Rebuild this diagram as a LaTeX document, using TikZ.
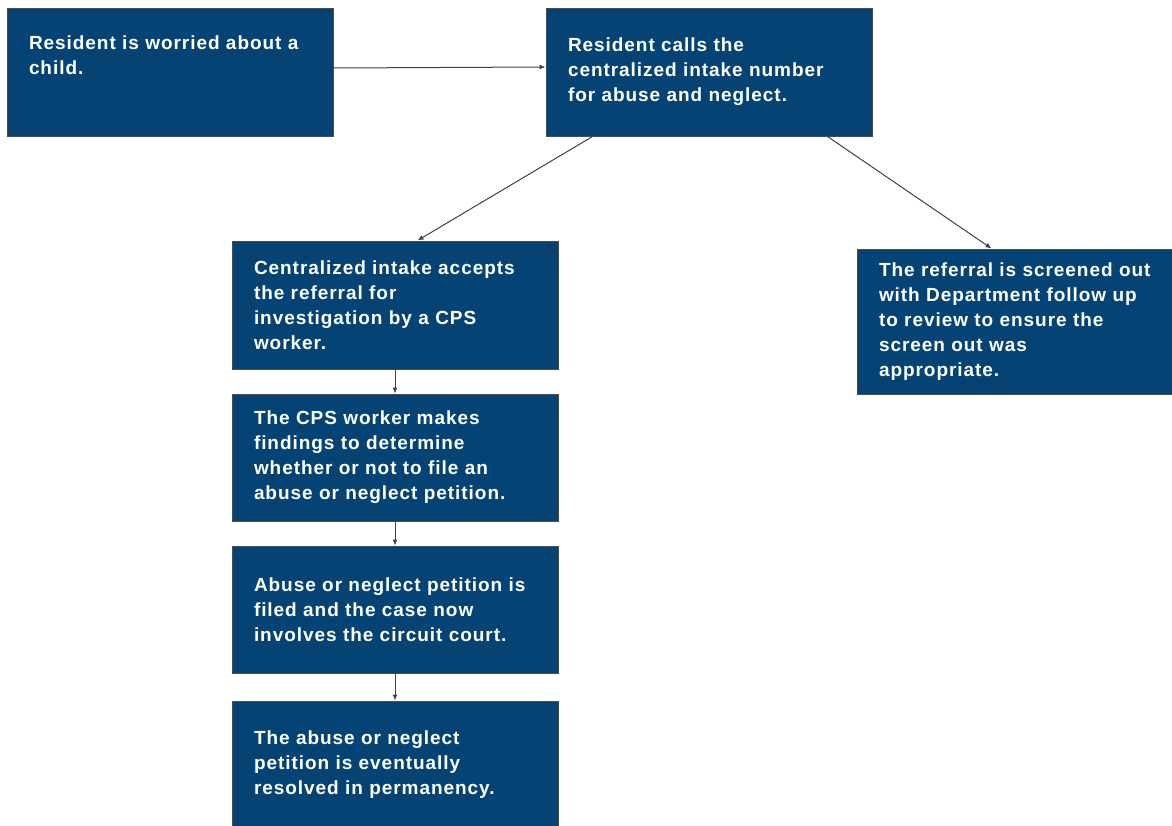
\documentclass[tikz,border=0pt]{standalone}
\usepackage{fontspec}
\setmainfont{Liberation Sans}[LetterSpace=5]
\usepackage{xcolor}
\usepackage{tikz}
\usetikzlibrary{arrows.meta,calc}
\definecolor{boxblue}{RGB}{4,67,116}
\tikzstyle{tsBoldWhite} = [
    text=white,
    font=\bfseries\fontsize{19}{25}\selectfont
]
\tikzstyle{tsWraptext} = [
    tsBoldWhite,
    text width=282pt,
    align=left
]
\tikzstyle{tsBox} = [
    rectangle,
    tsWraptext,
    draw=black!70,
    fill=boxblue,
    line width=1pt,
    inner sep=0pt,
    minimum width=326pt,
    minimum height=128pt]
\tikzstyle{tsArrow} = [
    draw=black!75,
    line width=1pt,
    -{Latex[length=6pt,width=5pt]}]

\begin{document}
\begin{tikzpicture}[x=1pt, y=-1pt]

        \useasboundingbox (0,0) rectangle (1172,825);
        \clip (0,0) rectangle (1172,825);

        \node[tsBox] (worry) at (170,72) {Resident is worried about a\\ child.\\[8pt] \mbox{}};
        \node[tsBox] (calls) at (709,72) {Resident calls the\\ centralized intake number\\ for abuse and neglect.};
        \node[tsBox] (accept) at (395,305) {Centralized intake accepts\\ the referral for\\ investigation by a CPS\\ worker.};
        \node[tsBox, minimum height=145pt] (screen) at (1020,321.5) {The referral is screened out\\ with Department follow up\\ to review to ensure the\\ screen out was\\ appropriate.};
        \node[tsBox, minimum height=127pt] (findings) at (395,457.5) {The CPS worker makes\\ findings to determine\\ whether or not to file an\\ abuse or neglect petition.};
        \node[tsBox, minimum height=127pt] (filed) at (395,609.5) {Abuse or neglect petition is\\ filed and the case now\\ involves the circuit court.};
        \node[tsBox] (resolved) at (395,765) {The abuse or neglect\\ petition is eventually\\ resolved in permanency.};

        \draw[tsArrow] ([yshift=4pt]worry.east) -- ([yshift=5pt]calls.west);
        \draw[tsArrow] ([xshift=47pt]calls.south west) -- ([xshift=186pt]accept.north west);
        \draw[tsArrow] ([xshift=282pt]calls.south west) -- ([xshift=135pt]screen.north west);
        \draw[tsArrow] (accept.south) -- (findings.north);
        \draw[tsArrow] (findings.south) -- (filed.north);
        \draw[tsArrow] (filed.south) -- (resolved.north);

\end{tikzpicture}
\end{document}
